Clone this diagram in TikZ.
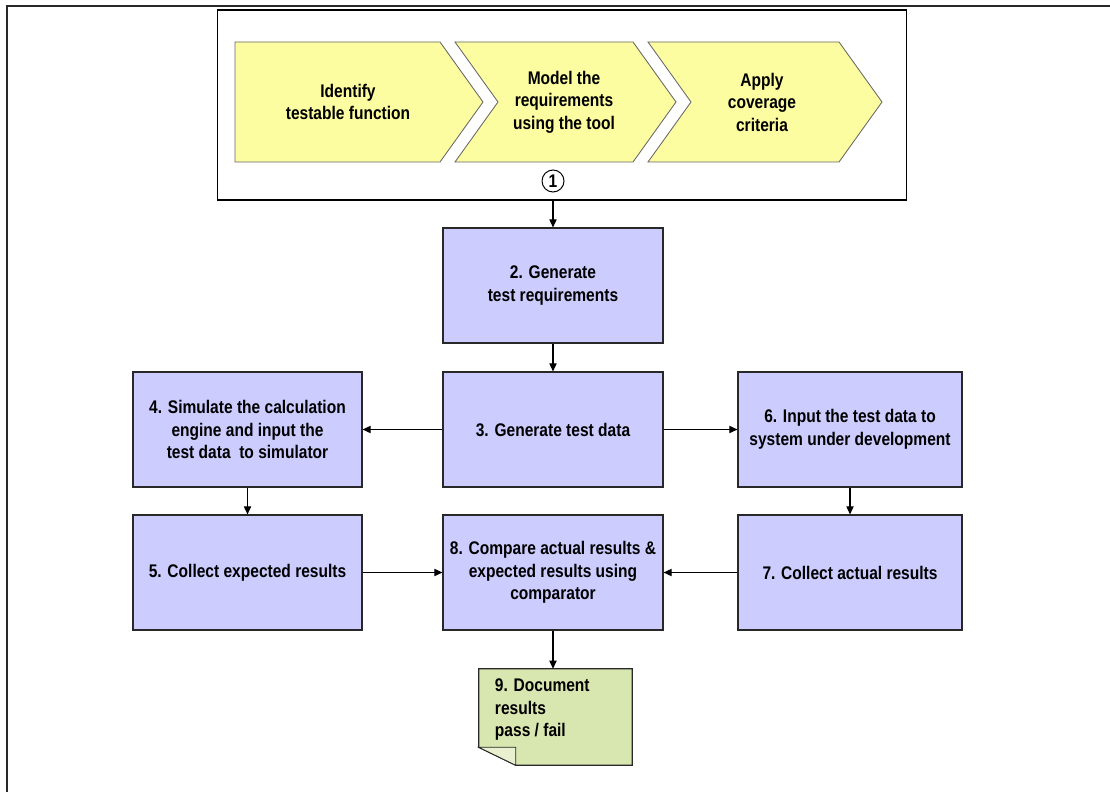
\documentclass[tikz,border=0pt]{standalone}
\usepackage{fontspec}
\setmainfont{Liberation Sans}[FakeStretch=0.85]
\usetikzlibrary{arrows.meta,positioning,calc}
\definecolor{boxblue}{RGB}{204,204,255}
\definecolor{chevyellow}{RGB}{252,252,160}
\definecolor{notegreen}{RGB}{216,230,176}
\definecolor{edgegray}{RGB}{40,40,40}
\tikzset{
      stepbox/.style={
        draw=edgegray,
        line width=0.8pt,
        fill=boxblue,
        minimum width=5.5cm,
        minimum height=2.875cm,
        align=center,
        inner sep=2pt
      },
      chevtext/.style={
        align=center,
        inner sep=1pt
      },
      flowarrow/.style={
        -{Triangle[length=0.2cm,width=0.18cm]},
        line width=0.8pt,
        color=black
      }
    }

\begin{document}
\begin{tikzpicture}[x=0.025cm,y=0.025cm,font=\fontsize{13pt}{16pt}\selectfont\bfseries]
    \useasboundingbox (0,0) rectangle (1110,792);
    % page frame, top and left only
    \draw[line width=1.4pt, color=edgegray] (1110,786) -- (7,786) -- (7,0);

    % phase 1 frame and chevrons
    \node[draw=black, line width=0.8pt, fill=white, minimum width=17.2cm, minimum height=4.75cm] (phase) at (562,687) {};
    \filldraw[fill=chevyellow, draw=black!60, line width=0.6pt] (235,750) -- (440,750) -- (483,690) -- (440,630) -- (235,630) -- cycle;
    \filldraw[fill=chevyellow, draw=black!60, line width=0.6pt] (455,750) -- (633,750) -- (676,690) -- (633,630) -- (455,630) -- (498,690) -- cycle;
    \filldraw[fill=chevyellow, draw=black!60, line width=0.6pt] (648,750) -- (839,750) -- (882,690) -- (839,630) -- (648,630) -- (691,690) -- cycle;
    \node[chevtext] (identify) at (348,690) {Identify\\testable function};
    \node[chevtext] (model) at (564,690) {Model the\\requirements\\using the tool};
    \node[chevtext] (apply) at (762,690) {Apply\\coverage\\criteria};
    \node[circle, draw=black, line width=0.7pt, fill=white, minimum size=0.55cm, inner sep=0pt] (one) at (553,611) {1};

    % steps
    \node[stepbox] (gen) at (553,506.5) {2. Generate\\test requirements};
    \node[stepbox] (data) at (553,362.5) {3. Generate test data};
    \node[stepbox, minimum width=5.725cm] (sim) at (247.5,362.5) {4. Simulate the calculation\\engine and input the\\test data\ \ to simulator};
    \node[stepbox, minimum width=5.6cm] (input) at (850,362.5) {6. Input the test data to\\system under development};
    \node[stepbox, minimum width=5.725cm] (expected) at (247.5,219.5) {5. Collect expected results};
    \node[stepbox] (compare) at (553,219.5) {8. Compare actual results \&\\expected results using\\comparator};
    \node[stepbox, minimum width=5.6cm] (actual) at (850,219.5) {7. Collect actual results};

    % document note with folded corner
    \node[minimum width=3.825cm, minimum height=2.4cm, inner sep=0pt] (doc) at (555.5,75) {};
    \filldraw[fill=notegreen, draw=edgegray, line width=0.8pt] (doc.north west) -- (doc.north east) -- (doc.south east) -- ($(doc.south west)+(37,0)$) -- ($(doc.south west)+(0,18)$) -- cycle;
    \filldraw[fill=notegreen!60!white, draw=edgegray, line width=0.6pt] ($(doc.south west)+(0,18)$) -- ($(doc.south west)+(37,18)$) -- ($(doc.south west)+(37,0)$) -- cycle;
    \node[anchor=north west, align=left, inner sep=0pt] (doctext) at ($(doc.north west)+(16,-10)$) {9. Document\\results\\pass / fail};

    \draw[flowarrow] (gen.north |- phase.south) -- (gen.north);
    \draw[flowarrow] (gen) -- (data);
    \draw[flowarrow] (data) -- (sim);
    \draw[flowarrow] (data) -- (input);
    \draw[flowarrow] (sim) -- (expected);
    \draw[flowarrow] (input) -- (actual);
    \draw[flowarrow] (expected) -- (compare);
    \draw[flowarrow] (actual) -- (compare);
    \draw[flowarrow] (compare.south) -- (compare.south |- doc.north);
    \end{tikzpicture}
\end{document}
